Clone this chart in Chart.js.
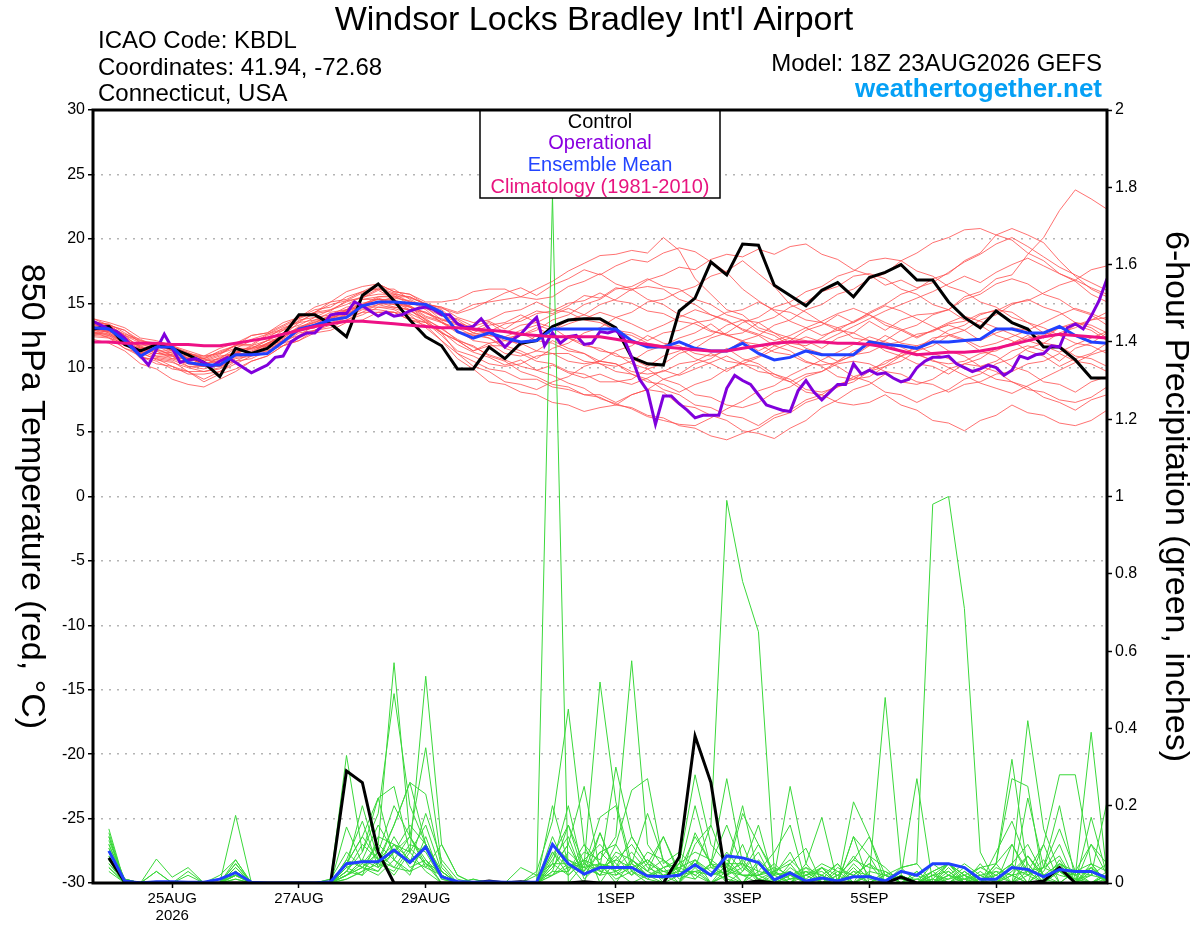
<!DOCTYPE html>
<html>
<head>
<meta charset="utf-8">
<script src="https://cdn.jsdelivr.net/npm/chart.js@4.4.1/dist/chart.umd.min.js"></script>
<style>
  html, body { margin: 0; padding: 0; background: #fff; }
  #wrap { width: 1200px; height: 927px; position: relative; }
</style>
</head>
<body>
<div id="wrap"><canvas id="myChart"></canvas></div>
<script>
// forecast hours from 18Z 23AUG2026, 6-hourly (65 steps) and 3-hourly for the operational run
const hours = [];
for (let i = 0; i <= 64; i++) hours.push(i * 6);
const hours3 = [];
for (let i = 0; i <= 128; i++) hours3.push(i * 3);

// axis ticks
const timeTicks = [30, 78, 126, 198, 246, 294, 342];
const timeLabels = [["25AUG", "2026"], "27AUG", "29AUG", "1SEP", "3SEP", "5SEP", "7SEP"];
const tempTicks = [-30, -25, -20, -15, -10, -5, 0, 5, 10, 15, 20, 25, 30];
const precipTicks = [0, 0.2, 0.4, 0.6, 0.8, 1, 1.2, 1.4, 1.6, 1.8, 2];
const precipLabels = ["0", "0.2", "0.4", "0.6", "0.8", "1", "1.2", "1.4", "1.6", "1.8", "2"];

// 850 hPa temperature (C)
const controlT = [13.0,13.2,11.8,11.3,11.8,11.5,11.0,10.4,9.3,11.5,11.1,11.5,12.5,
  14.1,14.1,13.4,12.4,15.6,16.5,15.2,13.7,12.4,11.7,9.9,9.9,11.6,
  10.7,11.9,12.1,13.2,13.7,13.8,13.8,13.1,10.8,10.3,10.2,14.4,15.4,
  18.2,17.2,19.6,19.5,16.4,15.6,14.8,16.0,16.6,15.5,17.0,17.4,18.0,
  16.8,16.8,15.1,13.9,13.1,14.4,13.5,13.0,11.6,11.6,10.6,9.2,9.2];
const meanT = [13.1,13.0,12.1,10.9,11.6,11.6,10.4,10.2,10.2,11.0,11.0,11.1,12.0,
  13.0,13.3,13.7,13.9,14.8,15.1,15.1,15.0,14.9,14.3,12.8,12.3,12.7,
  12.3,12.0,12.1,13.0,13.0,13.0,13.0,13.0,12.1,11.6,11.6,12.0,11.5,
  11.3,11.3,11.9,11.1,10.6,10.8,11.3,11.0,11.0,11.0,12.0,11.8,11.7,
  11.5,12.0,12.0,12.1,12.2,13.0,13.0,12.7,12.7,13.2,12.5,12.0,11.9];
const climoT = [12.0,12.0,11.9,11.9,11.9,11.8,11.8,11.7,11.7,11.9,12.1,12.3,12.6,
  12.9,13.2,13.4,13.6,13.6,13.5,13.4,13.3,13.2,13.1,13.1,13.0,12.9,
  12.8,12.6,12.5,12.4,12.4,12.4,12.4,12.2,12.0,11.8,11.6,11.5,11.4,
  11.3,11.3,11.5,11.7,11.9,12.0,12.0,12.0,11.9,11.9,11.8,11.6,11.3,
  11.0,11.1,11.2,11.2,11.3,11.5,11.8,12.1,12.4,12.6,12.5,12.4,12.3];
const operT = [13.6,13.3,13.0,12.8,12.3,11.6,10.9,10.2,11.4,12.6,11.5,10.4,10.6,
  10.7,10.4,10.1,10.5,10.8,10.4,10.0,9.6,9.9,10.2,10.8,10.9,12.0,
  12.4,12.7,12.7,13.3,14.1,14.2,14.2,15.1,14.8,14.4,14.0,14.3,14.0,
  14.1,14.4,14.6,14.7,14.5,14.1,14.1,13.4,13.1,13.2,13.8,13.0,12.3,
  11.6,12.2,12.6,13.3,13.9,11.7,12.7,11.9,12.4,12.5,11.8,11.9,12.8,
  12.7,12.9,12.3,10.8,9.1,8.2,5.6,7.8,7.8,7.2,6.7,6.1,6.3,
  6.3,6.3,8.4,9.4,9.0,8.7,7.9,7.1,6.9,6.7,6.6,8.2,9.0,
  8.1,7.5,8.1,8.7,8.7,10.3,9.5,9.8,9.5,9.6,9.2,8.9,9.1,
  10.0,10.5,10.8,10.8,10.9,10.3,10.0,9.7,9.9,10.2,10.0,9.4,9.8,
  10.9,10.7,11.0,11.1,11.7,11.6,13.1,13.4,13.0,14.0,15.2,16.9];

// ensemble members, temperature
const tMem01 = [13.4,13.1,12.3,11.7,11.1,11.2,10.7,10.3,10.5,11.3,11.2,11.9,12.5, 13.5,13.7,14.3,14.5,15.3,15.5,15.6,14.9,14.9,14.3,13.7,12.9,13.5, 12.7,13.3,13.5,14.1,14.6,14.1,13.7,12.8,12.5,11.9,11.7,12.3,12.7, 13.4,12.5,12.1,11.3,11.9,12.3,12.1,11.5,12.3,12.7,13.6,12.9,13.7, 14.1,14.2,14.5,15.5,15.9,16.9,17.2,18.8,20.1,22.2,23.8,23.1,22.3];
const tMem02 = [12.8,12.5,11.9,10.7,10.7,10.1,9.7,9.1,9.7,10.3,10.9,11.1,11.9, 12.3,12.9,13.3,13.9,14.3,14.9,15.1,14.7,13.7,12.7,11.1,10.5,9.9, 9.7,9.1,9.1,8.5,8.3,7.9,7.9,7.3,7.9,8.3,8.1,7.1,6.9, 6.3,5.9,5.1,4.9,4.5,5.3,5.9,6.9,7.5,8.3,8.7,9.5,8.9, 8.7,9.1,9.9,10.3,10.1,10.5,11.3,11.7,11.3,10.5,11.5,11.9,12.7];
const tMem03 = [13.6,13.3,12.9,11.9,11.7,11.3,11.1,10.7,11.1,11.5,12.1,12.3,13.1, 13.5,14.3,14.5,15.1,15.5,16.1,15.7,15.5,14.9,14.7,14.3,14.9,15.1, 15.3,15.5,16.1,16.7,17.5,18.1,18.7,18.8,19.1,18.9,20.1,19.1,16.9, 15.7,14.5,14.1,13.1,12.7,11.9,11.7,12.3,13.1,13.5,14.1,13.3,12.9, 12.3,12.9,13.3,12.9,12.1,12.7,13.1,12.9,12.3,13.1,13.5,13.3,12.7];
const tMem04 = [13.0,12.7,11.9,11.5,10.9,10.7,10.3,10.1,10.1,10.9,11.1,11.7,12.1, 12.9,13.1,13.7,14.1,14.7,14.7,14.5,13.9,13.5,12.7,12.1,11.3,11.7, 11.7,11.3,10.7,11.5,11.9,12.7,13.1,13.9,14.3,15.1,15.3,15.9,16.3, 17.1,17.5,18.3,17.3,16.3,14.9,14.3,13.5,13.1,12.3,12.1,11.3,10.9, 10.3,10.1,9.5,10.3,10.7,11.5,11.9,12.5,11.9,11.7,10.9,10.7,10.1];
const tMem05 = [12.6,12.9,12.1,11.7,11.7,11.5,10.7,10.5,10.7,11.5,11.5,12.1,12.7, 13.7,13.9,14.5,14.9,15.5,15.7,15.7,15.1,14.5,13.5,12.9,12.1,11.9, 11.1,10.9,11.3,12.1,11.5,11.1,10.3,10.1,10.5,11.3,11.7,11.5,10.7, 10.3,9.7,10.5,10.9,11.7,12.1,12.9,13.3,14.1,13.5,14.3,14.9,15.7, 16.1,16.9,17.3,18.3,18.9,20.3,20.8,20.3,19.7,18.3,17.1,16.1,15.5];
const tMem06 = [13.2,12.7,12.1,10.9,10.5,9.9,9.7,8.9,9.5,9.9,10.5,10.9,11.7, 12.1,12.9,13.1,13.7,14.1,14.7,14.7,14.5,13.5,12.5,11.3,10.9,10.3, 10.1,10.3,10.9,11.1,11.1,10.5,10.3,9.7,9.5,8.9,8.7,8.1,8.7, 9.1,9.9,10.3,10.1,9.3,8.9,8.1,7.9,7.3,7.1,7.3,7.9,7.1, 6.7,5.9,5.7,5.1,5.9,6.3,7.1,6.5,6.3,5.7,5.5,5.9,6.7];
const tMem07 = [12.8,12.3,11.9,11.1,11.5,10.9,10.7,10.5,10.9,11.1,11.7,12.1,12.9, 13.3,13.9,14.1,14.7,14.9,15.3,14.9,14.7,13.9,13.5,12.7,12.5,12.5, 12.3,12.5,13.1,12.5,12.3,11.7,11.5,10.9,10.7,10.1,10.9,11.3,12.1, 12.5,13.3,13.7,13.5,12.7,12.3,11.5,11.1,10.5,11.3,11.7,12.5,11.9, 11.7,12.1,12.9,13.3,14.1,14.5,14.3,13.5,13.1,12.5,13.3,13.7,14.3];
const tMem08 = [13.8,13.5,13.1,12.3,12.1,11.7,11.3,10.9,11.5,11.9,12.5,12.7,13.5, 13.9,14.5,14.7,15.5,15.9,16.5,15.9,15.7,15.1,15.1,15.3,15.9,16.1, 16.1,15.5,15.3,15.5,16.3,16.7,17.3,16.5,16.1,15.3,14.9,14.1,13.7, 12.9,12.5,12.7,13.5,13.9,14.7,15.1,15.9,16.3,17.1,17.3,16.9,16.1, 15.7,14.9,14.5,13.7,13.3,12.5,12.1,11.3,10.9,10.1,10.7,11.1,11.9];
const tMem09 = [12.4,12.3,11.5,11.1,10.7,10.5,9.7,9.7,9.9,10.7,10.9,11.5,11.9, 12.7,12.9,13.5,13.9,14.5,14.5,14.3,13.7,13.3,12.1,11.1,10.1,9.7, 8.9,8.7,8.3,8.9,9.3,10.1,10.5,10.3,9.5,9.1,8.3,7.9,7.1, 6.9,6.3,6.1,5.5,6.3,6.7,7.5,7.9,8.7,9.1,9.9,10.3,11.1, 11.5,12.3,12.5,12.1,11.3,10.9,10.1,9.7,8.9,8.7,8.1,8.9,9.3];
const tMem10 = [13.2,13.3,12.5,11.9,11.3,11.3,10.7,10.7,10.3,11.1,11.5,12.1,12.3, 13.1,13.5,14.1,14.3,14.9,15.1,15.5,15.1,14.9,14.1,13.5,12.7,12.3, 11.5,11.1,10.5,10.3,9.7,9.5,8.9,8.9,9.1,9.9,10.3,11.1,11.5, 12.3,12.7,13.5,13.9,14.7,15.1,15.9,16.3,17.1,17.5,18.3,18.5,18.3, 17.5,17.1,16.3,15.9,15.1,14.7,13.9,13.5,12.7,12.5,11.9,11.7,11.1];
const tMem11 = [12.6,12.5,11.7,11.5,11.1,10.9,10.1,10.1,10.3,11.1,11.1,11.7,12.1, 12.9,13.1,13.9,14.1,14.9,15.1,15.1,14.5,14.3,13.7,13.5,12.9,12.7, 12.1,11.9,11.3,11.1,10.5,10.3,10.5,11.3,11.7,12.5,11.9,11.7,11.1, 10.9,11.3,12.1,12.5,13.3,13.7,14.5,14.9,15.7,16.1,16.9,17.3,18.3, 18.9,19.7,20.1,20.7,20.8,20.3,19.9,18.9,18.3,17.3,16.7,15.7,15.1];
const tMem12 = [12.2,11.9,11.3,10.3,9.9,9.1,8.7,8.5,9.1,9.7,10.5,10.9,11.7, 12.1,12.7,12.9,13.5,13.7,14.3,14.3,14.1,13.1,12.1,10.7,9.9,8.9, 8.7,8.1,7.9,7.3,7.1,6.6,6.9,7.1,7.9,8.3,9.1,9.5,10.3, 10.7,11.5,10.7,10.3,9.5,9.1,8.3,8.1,8.5,9.3,9.7,10.5,10.9, 11.7,11.1,10.7,9.9,9.7,9.1,8.9,8.3,8.1,7.5,7.3,7.7,8.5];
const tMem13 = [13.6,13.3,12.5,12.1,11.7,11.7,11.1,10.9,11.1,11.7,11.7,12.5,12.9, 13.9,14.3,15.1,15.3,15.9,16.1,16.1,15.3,14.7,13.7,13.3,12.7,13.3, 13.5,14.1,13.5,13.1,12.3,11.9,11.3,11.1,10.3,9.9,9.1,8.7,7.9, 7.7,7.1,6.9,7.3,8.1,8.5,9.3,9.7,10.5,10.9,11.7,12.1,12.9, 13.3,14.1,14.5,15.3,15.7,16.5,16.9,16.5,15.7,15.3,14.5,14.1,13.3];
const tMem14 = [12.9,12.8,12.1,11.5,10.9,10.9,10.3,10.1,10.3,11.1,11.1,11.9,12.3, 13.1,13.3,14.1,14.5,15.3,15.3,15.3,14.7,14.3,13.5,13.1,12.5,12.3, 11.7,12.5,12.9,13.7,14.1,14.9,15.3,16.1,16.3,16.9,16.3,16.1,15.3, 14.9,14.1,13.7,12.9,12.5,11.7,11.3,10.5,10.1,9.3,8.9,8.1,7.9, 7.3,7.9,8.3,9.1,9.5,10.3,10.7,11.5,11.9,12.7,13.1,13.7,13.9];
const tMem15 = [13.0,12.9,12.5,11.5,11.3,10.7,10.7,10.3,10.7,11.1,11.5,11.7,12.5, 13.1,13.7,13.9,14.5,14.7,15.1,14.7,14.5,13.7,13.1,12.1,11.7,10.9, 10.5,9.7,9.3,8.7,8.5,7.9,7.7,7.1,6.9,6.3,6.1,5.5,5.3, 4.7,4.4,4.9,5.3,6.1,6.5,7.3,7.7,8.5,8.9,9.7,10.1,10.9, 11.3,12.1,11.3,10.9,10.1,9.7,8.9,8.5,7.7,7.3,6.7,7.5,7.9];
const tMem16 = [13.4,12.9,12.3,11.1,11.7,11.1,10.9,10.1,10.1,10.5,11.1,11.3,12.1, 12.5,13.3,13.7,14.5,14.9,15.5,15.5,15.5,14.9,14.7,13.9,13.5,13.7, 14.3,14.5,15.1,14.5,14.3,13.7,13.5,12.9,12.7,12.1,12.7,12.9,13.5, 13.7,14.3,14.5,15.1,14.5,14.3,13.7,13.5,12.9,12.7,12.1,11.9,11.3, 11.1,10.5,10.3,10.5,11.1,11.3,11.9,12.3,12.5,13.1,13.3,12.9,12.1];
const tMem17 = [13.8,13.3,12.9,12.1,11.9,11.3,11.1,10.7,11.3,11.7,12.5,12.7,13.3, 13.9,14.7,15.1,15.9,16.3,16.5,15.9,15.7,14.9,14.5,13.5,13.1,12.5, 12.3,11.7,12.5,12.9,13.7,14.1,14.9,15.3,16.1,16.3,16.1,15.3,14.9, 14.1,13.7,12.9,12.5,11.7,11.3,10.5,10.1,9.3,9.1,9.3,10.1,10.5, 11.3,11.7,12.5,12.9,13.7,14.1,14.9,15.3,14.7,14.3,13.5,13.1,12.3];
const tMem18 = [12.5,12.4,11.5,10.9,10.3,10.1,9.5,9.5,9.7,10.5,10.7,11.3,11.7, 12.5,12.9,13.5,13.7,14.3,14.3,14.3,13.7,13.5,12.7,12.1,11.3,11.9, 12.1,12.7,12.1,11.9,11.3,11.1,10.5,10.3,9.7,9.5,9.7,10.3,10.5, 11.1,10.5,10.3,9.7,9.5,8.9,9.5,9.7,10.3,10.5,10.3,9.7,9.5, 8.9,8.7,8.1,8.7,8.9,9.5,9.7,10.3,10.5,11.1,10.5,10.3,9.7];
const tMem19 = [13.1,12.8,12.4,11.6,11.4,11.0,10.8,10.2,10.8,11.2,11.6,11.8,12.6, 13.0,13.6,13.8,14.4,14.8,15.4,15.0,14.8,14.0,13.6,12.8,12.6,12.8, 13.4,13.6,14.2,14.4,15.0,15.2,15.8,15.2,15.0,14.4,14.2,13.6,13.4, 12.8,12.6,12.0,11.8,11.2,11.0,10.4,10.2,10.4,11.0,11.2,11.8,12.0, 12.6,12.8,13.4,13.6,14.2,14.4,15.0,15.2,15.8,16.4,16.8,17.6,17.9];
const tMem20 = [13.3,13.2,12.6,12.2,11.6,11.6,11.2,10.6,11.0,11.8,11.8,12.6,13.0, 13.6,14.2,14.4,15.2,15.4,16.0,15.4,15.2,14.6,14.0,13.8,13.2,13.6, 13.0,13.8,14.4,14.2,14.8,15.6,15.4,16.2,16.0,16.8,17.2,17.8,17.6, 18.4,18.8,18.6,19.2,18.8,19.4,19.6,18.8,18.4,17.6,17.2,16.4,16.8, 16.2,16.6,17.4,18.2,18.8,19.6,20.1,19.4,18.6,17.8,17.2,16.6,16.0];
const tMem21 = [13.5,13.4,12.7,12.0,11.8,11.5,11.1,10.8,11.2,11.7,12.2,12.6,13.2, 13.8,14.3,14.9,15.2,15.8,16.2,15.8,15.4,15.0,14.6,14.2,14.6,15.2, 15.8,16.2,15.6,16.4,16.9,17.6,17.2,17.9,18.4,18.2,18.9,19.3,19.0, 18.2,17.4,16.1,15.2,14.4,13.6,13.1,12.5,12.9,13.6,14.2,14.8,14.4, 13.8,13.2,12.6,12.2,11.6,11.9,12.4,12.9,13.5,14.1,14.6,14.2,13.7];
const tMem22 = [12.7,12.6,11.9,11.2,10.6,10.4,10.0,9.7,10.0,10.8,11.0,11.6,12.0, 12.8,13.2,13.8,14.0,14.6,14.9,14.6,14.2,13.6,12.8,11.8,11.2,10.8, 10.2,10.6,9.8,9.4,8.8,8.4,7.6,7.2,6.8,6.2,5.9,5.6,5.5, 6.1,6.8,7.4,8.2,8.6,9.4,10.0,10.6,11.2,11.8,12.4,12.0,11.6, 11.0,10.6,10.0,9.4,8.8,8.4,8.0,8.6,9.2,9.8,10.4,11.0,11.4];
const tMem23 = [13.0,12.9,12.2,11.6,11.1,11.0,10.5,10.2,10.6,11.2,11.4,11.9,12.4, 13.2,13.5,14.0,14.4,15.0,15.3,15.2,14.8,14.2,13.8,13.4,13.0,12.7, 12.4,12.9,13.3,12.9,13.4,13.8,14.3,13.9,13.4,12.8,13.3,13.9,14.5, 14.1,13.6,13.0,12.6,12.1,12.5,13.1,13.6,14.2,14.6,14.1,13.5,13.0, 12.4,12.9,13.5,14.0,13.6,13.1,12.6,12.1,11.7,11.2,11.8,12.3,12.8];
const tMem24 = [12.9,12.6,12.0,11.3,10.8,10.6,10.1,9.9,10.3,10.9,11.3,11.8,12.2, 12.9,13.4,13.9,14.2,14.8,15.0,14.9,14.4,13.8,13.0,12.2,11.6,11.0, 10.6,10.1,9.8,10.2,9.6,9.2,9.5,9.0,8.7,9.2,9.8,9.4,9.9, 10.4,10.9,10.3,10.8,11.4,11.9,12.4,12.0,12.6,13.2,13.8,14.4,14.9, 15.4,15.9,16.5,17.1,16.6,17.4,18.0,18.5,17.9,17.3,16.8,16.2,15.7];

// 6-hour precipitation (inches), first step has no accumulation
const controlP = [null,0.065,0.003,0,0,0,0,0,0,0,0,0,0, 0,0,0,0.29,0.26,0.08,0,0,0,0,0,0,0.005, 0,0.003,0,0,0,0.003,0,0,0,0,0,0.067,0.38, 0.26,0,0,0.005,0,0,0,0,0,0,0,0,0.015, 0,0,0,0,0,0,0,0,0.005,0.04,0,0,0];
const meanP = [null,0.083,0.005,0,0.003,0.003,0.002,0.002,0.01,0.027,0.002,0,0, 0,0,0.003,0.05,0.055,0.055,0.085,0.053,0.093,0.016,0.004,0.002,0.003, 0.002,0.002,0.002,0.1,0.05,0.023,0.04,0.04,0.04,0.018,0.016,0.02,0.047, 0.02,0.07,0.065,0.053,0.008,0.026,0.005,0.013,0.005,0.016,0.016,0.005,0.03, 0.02,0.05,0.05,0.04,0.01,0.01,0.04,0.035,0.016,0.035,0.03,0.03,0.013];

const pMem01 = [null,0.10,0.01,0,0,0,0,0,0,0.04,0,0,0, 0,0,0,0.05,0.12,0.06,0.02,0.08,0.03,0,0,0,0, 0,0,0,1.78,0,0.05,0.02,0.10,0.03,0,0,0.02,0.06, 0.03,0.01,0,0,0,0.02,0,0,0,0.05,0.01,0,0, 0,0,0.02,0,0,0,0.03,0.07,0.01,0,0,0.04,0];
const pMem02 = [null,0.12,0,0,0,0,0,0,0.01,0.02,0,0,0, 0,0,0.01,0.08,0.04,0.1,0.06,0.02,0.12,0.01,0,0,0, 0,0,0,0.03,0.15,0.02,0.08,0.04,0.12,0.05,0,0,0.10, 0.15,0.99,0.78,0.65,0.03,0.05,0,0.04,0,0,0,0.02,0, 0.01,0,0,0,0.05,0,0,0.02,0,0.06,0,0,0.02];
const pMem03 = [null,0.06,0,0,0,0,0,0,0,0.03,0,0,0, 0,0,0,0.02,0.06,0.15,0.08,0.12,0.05,0.02,0,0,0, 0,0,0,0.2,0.05,0,0.13,0.03,0,0.02,0,0,0.04, 0,0.02,0.06,0.01,0,0.05,0.09,0,0.02,0,0.07,0,0.04, 0.05,0.98,1.00,0.71,0.08,0,0.02,0,0,0.03,0,0.05,0];
const pMem04 = [null,0.08,0.01,0,0.03,0,0.03,0,0,0.05,0,0,0, 0,0,0,0.02,0.05,0.10,0.57,0.12,0.04,0.1,0.02,0,0, 0,0,0,0.12,0.03,0.1,0,0.06,0.04,0.01,0,0.05,0.02, 0,0.05,0,0.03,0.08,0.15,0,0.02,0,0.12,0,0,0.02, 0,0,0.05,0.02,0,0.05,0.1,0.03,0.04,0.14,0.03,0.02,0.05];
const pMem05 = [null,0.04,0,0,0,0,0,0,0,0.02,0,0,0, 0,0,0,0.03,0.08,0.18,0.49,0.2,0.1,0.03,0,0,0, 0,0,0.02,0.05,0.2,0.02,0.05,0.01,0.03,0.06,0.02,0,0.13, 0.05,0.27,0.05,0.01,0,0,0.03,0,0,0.03,0,0,0.02, 0,0,0.03,0,0,0.08,0.16,0.05,0,0.05,0,0.1,0.05];
const pMem06 = [null,0.11,0.01,0,0,0,0,0,0,0.01,0,0,0, 0,0,0,0.04,0.02,0.06,0.1,0.08,0.535,0.1,0.02,0,0, 0,0,0,0.04,0.1,0.25,0.03,0.07,0.02,0.08,0.06,0.02,0.01, 0.05,0,0.03,0.08,0,0.02,0,0,0.02,0.06,0.12,0,0, 0,0.03,0,0.02,0,0.05,0,0.22,0.04,0.2,0.01,0,0];
const pMem07 = [null,0.09,0,0,0,0,0,0,0,0.03,0,0,0, 0,0,0,0.06,0.04,0.08,0.2,0.12,0.35,0.05,0,0,0, 0,0,0,0.02,0.08,0.04,0.17,0.2,0.03,0.01,0.04,0.05,0.28, 0.1,0.05,0.02,0,0.01,0.03,0,0.04,0,0,0.02,0,0, 0.03,0,0.01,0.04,0,0,0.05,0,0.1,0,0,0.02,0.01];
const pMem08 = [null,0.13,0,0,0,0,0,0,0,0.02,0,0,0, 0,0,0,0.03,0.1,0.06,0.15,0.26,0.23,0.04,0,0.01,0, 0,0,0,0.08,0.02,0.06,0.04,0.3,0.12,0.05,0.03,0.02,0.05, 0.02,0.08,0.03,0.1,0.02,0.25,0.05,0,0.01,0,0.02,0,0, 0.02,0,0.04,0,0.03,0,0.02,0,0.04,0.07,0,0.17,0.02];
const pMem09 = [null,0.07,0,0,0,0,0,0,0,0.06,0,0,0, 0,0,0.01,0.33,0.08,0.22,0.06,0.03,0.05,0,0,0,0, 0,0,0,0.06,0.12,0.01,0.05,0,0.06,0.03,0.12,0.02,0.03, 0.04,0.02,0.1,0,0.03,0.06,0.02,0.03,0,0.21,0.12,0.02,0, 0,0.01,0,0.03,0,0.03,0,0.07,0.02,0,0.03,0,0.01];
const pMem10 = [null,0.05,0,0,0,0,0,0,0,0.02,0,0,0, 0,0,0,0.145,0.05,0.03,0.08,0.05,0.18,0.06,0.01,0,0, 0,0,0,0.1,0.06,0.03,0.08,0.1,0.24,0.27,0.05,0.08,0.04, 0.15,0.04,0.2,0.02,0,0.01,0.02,0,0.04,0.02,0,0.03,0, 0,0.02,0.05,0,0.02,0,0,0.03,0,0.05,0.02,0,0.02];
const pMem11 = [null,0.03,0,0,0,0,0,0,0,0,0,0,0, 0,0,0,0.02,0.04,0.03,0.1,0.04,0.06,0.02,0,0,0, 0,0,0.03,0.16,0.45,0.1,0.05,0.03,0.05,0.18,0.06,0.01,0.03, 0,0.03,0.18,0.1,0.03,0,0.05,0.17,0,0.04,0,0,0.02, 0.27,0,0.02,0,0,0,0.04,0.02,0.06,0,0.03,0.05,0];
const pMem12 = [null,0.14,0,0,0,0,0,0,0,0.03,0,0,0, 0,0,0,0.01,0.03,0.05,0.15,0.26,0.1,0.03,0,0,0, 0,0,0,0.07,0.15,0.05,0.52,0.21,0.05,0.02,0.04,0.06,0.01, 0.05,0.15,0.04,0.15,0,0.04,0.01,0.04,0,0.12,0.07,0.04,0, 0,0.03,0.05,0.02,0,0.05,0.27,0.25,0,0.04,0,0.03,0];
const pMem13 = [null,0.1,0,0,0,0,0,0,0,0.04,0,0,0, 0,0,0,0.05,0.12,0.22,0.25,0.08,0.15,0.03,0,0,0, 0,0,0,0.03,0.03,0.08,0.06,0.12,0.575,0.1,0.04,0,0.06, 0,0.02,0,0.05,0,0.02,0.04,0,0.03,0,0.03,0.02,0.04, 0,0.02,0.03,0,0.01,0.02,0.05,0,0.03,0.1,0,0.04,0.01];
const pMem14 = [null,0.05,0.01,0,0,0,0,0,0,0.01,0,0,0, 0,0,0,0.04,0.2,0.06,0.04,0.03,0.1,0.02,0,0,0, 0,0,0,0.05,0.02,0.06,0.1,0.05,0.02,0.05,0.12,0.03,0.2, 0.04,0.05,0.05,0.03,0.02,0.08,0,0.02,0,0.03,0.02,0.48,0.04, 0.05,0,0,0.01,0.02,0,0.1,0.02,0.04,0.02,0.01,0,0.03];
const pMem15 = [null,0.12,0,0,0,0,0,0,0,0.175,0,0,0, 0,0,0,0.02,0.06,0.04,0.08,0.15,0.1,0.02,0,0,0, 0,0,0,0.04,0.1,0.02,0.04,0.06,0.1,0.04,0.02,0.04,0.06, 0.02,0.04,0,0.06,0.02,0,0.04,0.02,0,0.02,0.05,0,0, 0,0.02,0,0.03,0,0.01,0.04,0.42,0.14,0.03,0,0,0.02];
const pMem16 = [null,0.08,0,0,0.062,0.015,0.04,0,0,0.03,0,0,0, 0,0,0,0.03,0.02,0.12,0.1,0.06,0.04,0.02,0,0.01,0, 0,0,0,0.02,0.05,0.03,0.13,0.02,0.06,0.02,0.02,0.03,0.03, 0.02,0.06,0.02,0.02,0.05,0.01,0.03,0,0.01,0.07,0.02,0,0.02, 0,0.01,0.05,0.01,0.04,0.05,0.32,0.03,0,0.03,0.02,0.04,0];
const pMem17 = [null,0.06,0,0,0.03,0,0.02,0,0,0.02,0,0,0, 0,0,0,0.01,0.03,0.08,0.04,0.1,0.08,0.01,0,0,0, 0,0.04,0.02,0.02,0.04,0.06,0.02,0.03,0.05,0.02,0.03,0.02,0.05, 0.02,0.03,0.05,0,0.02,0.03,0,0.01,0.05,0,0.02,0,0, 0,0.02,0.01,0.02,0,0.02,0,0.05,0,0.05,0.02,0.39,0.02];
const pMem18 = [null,0.07,0,0,0,0,0,0,0,0.02,0,0,0, 0,0,0,0.02,0.04,0.02,0.06,0.12,0.06,0,0,0,0, 0,0,0,0.05,0.05,0.04,0.02,0.08,0.06,0.03,0.01,0.05,0.08, 0.06,0.03,0.02,0.02,0.04,0.02,0.03,0.02,0.05,0,0,0.02,0.01, 0,0.05,0.02,0.01,0,0.04,0.02,0.03,0.1,0.28,0.28,0.05,0.03];
const pMem19 = [null,0.09,0,0,0,0,0,0,0,0.05,0,0,0, 0,0,0,0.04,0.06,0.05,0.03,0.09,0.05,0.03,0,0,0, 0,0,0,0.08,0.04,0.05,0.03,0.02,0.04,0.06,0.03,0.04,0.02, 0.05,0.02,0.04,0.01,0.03,0,0.02,0.05,0.03,0.02,0.05,0.02,0, 0.03,0,0.02,0.05,0.02,0.03,0.02,0.07,0.02,0.03,0.01,0.02,0.21];
const pMem20 = [null,0.04,0,0,0,0,0,0,0.02,0.06,0,0,0, 0,0,0,0.06,0.16,0.04,0.12,0.05,0.1,0.02,0,0,0, 0,0,0,0.1,0.06,0.04,0.05,0.04,0.08,0.03,0.06,0.03,0.12, 0.05,0.04,0.02,0.02,0.03,0.01,0.02,0.04,0.02,0.06,0.04,0.03,0.01, 0.01,0.03,0.05,0.02,0.04,0.02,0.05,0.1,0.02,0.05,0.03,0.1,0.02];

const tempMembers = [tMem01, tMem02, tMem03, tMem04, tMem05, tMem06, tMem07, tMem08, tMem09, tMem10,
  tMem11, tMem12, tMem13, tMem14, tMem15, tMem16, tMem17, tMem18, tMem19, tMem20,
  tMem21, tMem22, tMem23, tMem24];
const precipMembers = [pMem01, pMem02, pMem03, pMem04, pMem05, pMem06, pMem07, pMem08, pMem09, pMem10,
  pMem11, pMem12, pMem13, pMem14, pMem15, pMem16, pMem17, pMem18, pMem19, pMem20];

const FONT = '"Liberation Sans", Arial, Helvetica, sans-serif';

function pts(vals, hrs) {
  return vals.map((v, i) => ({ x: hrs[i], y: v }));
}

function line(vals, hrs, axis, color, width, order) {
  return {
    data: pts(vals, hrs),
    yAxisID: axis,
    borderColor: color,
    borderWidth: width,
    pointRadius: 0,
    tension: 0,
    fill: false,
    order: order
  };
}

let datasets = [];
tempMembers.forEach(m => datasets.push(line(m, hours, "yT", "rgba(255,78,78,0.8)", 1, 9)));
precipMembers.forEach(m => datasets.push(line(m, hours, "yP", "#3ad83a", 1, 8)));
datasets.push(line(controlP, hours, "yP", "#000000", 3, 6));
datasets.push(line(meanP, hours, "yP", "#2040ff", 3, 5));
datasets.push(line(controlT, hours, "yT", "#000000", 3, 4));
datasets.push(line(operT, hours3, "yT", "#8000dc", 3, 3));
datasets.push(line(meanT, hours, "yT", "#2040ff", 3, 2));
datasets.push(line(climoT, hours, "yT", "#ee1185", 3, 1));

// header, axis titles, frame and legend box
const decorations = {
  id: "decorations",
  afterDraw(chart) {
    const ctx = chart.ctx;
    const a = chart.chartArea;
    ctx.save();

    // legend box
    ctx.fillStyle = "#fff";
    ctx.fillRect(480, a.top, 240, 88);
    ctx.strokeStyle = "#000";
    ctx.lineWidth = 1.5;
    ctx.strokeRect(480, a.top, 240, 88);
    ctx.textAlign = "center";
    ctx.textBaseline = "alphabetic";
    ctx.font = "20px " + FONT;
    ctx.fillStyle = "#000";
    ctx.fillText("Control", 600, 128);
    ctx.fillStyle = "#8a00e0";
    ctx.fillText("Operational", 600, 149);
    ctx.fillStyle = "#2244ff";
    ctx.fillText("Ensemble Mean", 600, 171);
    ctx.fillStyle = "#e8147f";
    ctx.fillText("Climatology (1981-2010)", 600, 193);

    // plot frame
    ctx.strokeStyle = "#000";
    ctx.lineWidth = 3;
    ctx.strokeRect(a.left, a.top, a.right - a.left, a.bottom - a.top);

    // header
    ctx.fillStyle = "#000";
    ctx.font = "34px " + FONT;
    ctx.textAlign = "center";
    ctx.fillText("Windsor Locks Bradley Int'l Airport", 594, 30);
    ctx.font = "24px " + FONT;
    ctx.textAlign = "left";
    ctx.fillText("ICAO Code: KBDL", 98, 48);
    ctx.fillText("Coordinates: 41.94, -72.68", 98, 75);
    ctx.fillText("Connecticut, USA", 98, 101);
    ctx.textAlign = "right";
    ctx.fillText("Model: 18Z 23AUG2026 GEFS", 1102, 71);
    ctx.font = "bold 26px " + FONT;
    ctx.fillStyle = "#05a0f5";
    ctx.fillText("weathertogether.net", 1102, 97);

    // axis titles
    ctx.fillStyle = "#000";
    ctx.font = "34px " + FONT;
    ctx.textAlign = "center";
    ctx.textBaseline = "middle";
    const midY = (a.top + a.bottom) / 2;
    ctx.save();
    ctx.translate(31, midY);
    ctx.rotate(Math.PI / 2);
    ctx.fillText("850 hPa Temperature (red, \u00B0C)", 0, 0);
    ctx.restore();
    ctx.save();
    ctx.translate(1175, midY);
    ctx.rotate(Math.PI / 2);
    ctx.fillText("6-hour Precipitation (green, inches)", 0, 0);
    ctx.restore();

    ctx.restore();
  }
};

const tickFont = { family: FONT, size: 16 };

let ctx = document.getElementById("myChart").getContext("2d");
let chart = new Chart(ctx, {
  type: "line",
  data: { datasets: datasets },
  options: {
    responsive: true,
    maintainAspectRatio: false,
    animation: false,
    events: [],
    layout: { padding: { top: 110, left: 0, right: 0, bottom: 0 } },
    plugins: { legend: { display: false }, tooltip: { enabled: false }, title: { display: false } },
    scales: {
      x: {
        type: "linear",
        min: 0,
        max: 384,
        afterBuildTicks: s => { s.ticks = timeTicks.map(v => ({ value: v })); },
        afterFit: s => { s.height = 44; },
        ticks: {
          autoSkip: false,
          maxRotation: 0,
          color: "#000",
          padding: 2,
          font: { family: FONT, size: 15, lineHeight: 1.15 },
          callback: (v, i) => timeLabels[i]
        },
        grid: { drawOnChartArea: false, tickLength: 5, tickColor: "#000", tickWidth: 1.5 },
        border: { display: false }
      },
      yT: {
        type: "linear",
        position: "left",
        min: -30,
        max: 30,
        afterBuildTicks: s => { s.ticks = tempTicks.map(v => ({ value: v })); },
        afterFit: s => { s.width = 93; },
        ticks: { color: "#000", padding: 3, font: tickFont, callback: v => String(v) },
        grid: { color: "#b4b4b4", lineWidth: 1.5, tickLength: 5, tickColor: "#000", tickWidth: 1.5 },
        border: { display: false, dash: [2, 6] }
      },
      yP: {
        type: "linear",
        position: "right",
        min: 0,
        max: 2,
        afterBuildTicks: s => { s.ticks = precipTicks.map(v => ({ value: v })); },
        afterFit: s => { s.width = 93; },
        ticks: { color: "#000", padding: 3, font: tickFont, callback: (v, i) => precipLabels[i] },
        grid: { drawOnChartArea: false, tickLength: 5, tickColor: "#000", tickWidth: 1.5 },
        border: { display: false }
      }
    }
  },
  plugins: [decorations]
});
</script>
</body>
</html>
